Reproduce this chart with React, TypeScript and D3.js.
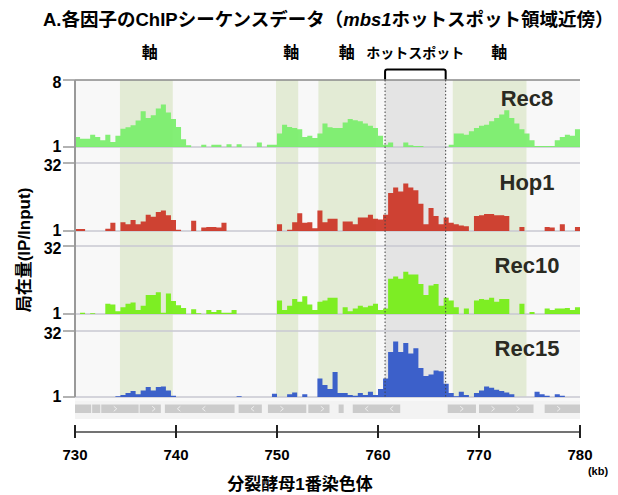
import React from 'react';
import * as d3 from 'd3';

// 0.5 kb bins from 730 kb; values are log2(IP/Input)
const binStart = d3.range(730, 780, 0.5);

const rec8 = [
  0.45, 0.37, 0.37, 0.55, 0.45, 0.3, 0.55, 0.22, 0.5, 0.82,
  0.88, 0.97, 1.19, 1.6, 1.3, 1.42, 1.72, 1.9, 1.55, 1.25,
  0.9, 0.35, 0.08, 0, 0, 0.1, 0, 0.1, 0.1, 0,
  0.12, 0, 0.12, 0, 0, 0, 0.2, 0, 0.1, 0.1,
  0.6, 1.0, 0.9, 0.85, 0.8, 0.45, 0.5, 0.4, 0.6, 1.05,
  0.88, 0.85, 0.85, 1.1, 1.25, 1.2, 1.15, 1.05, 0.95, 0.85,
  0.5, 0.1, 0.2, 0, 0, 0.2, 0.08, 0.05, 0.05, 0,
  0, 0, 0, 0, 0.1, 0.6, 0.6, 0.55, 0.7, 0.85,
  0.95, 1.0, 1.15, 1.3, 1.45, 1.65, 1.3, 1.05, 0.8, 0.6,
  0.3, 0.05, 0.05, 0.05, 0.05, 0.3, 0.45, 0.55, 0.5, 0.8,
];

const hop1 = [
  0.15, 0.15, 0, 0, 0, 0, 0.17, 0.6, 0, 0.65,
  0.5, 0.8, 0.5, 0.7, 1.2, 1.05, 1.4, 1.5, 1.15, 0.8,
  0.1, 0, 0, 0.75, 0, 0.25, 0.3, 0.3, 0.25, 0.6,
  0, 0, 0, 0, 0, 0, 0, 0, 0, 0,
  0.5, 0, 0.1, 0.65, 1.3, 0.6, 0.65, 0.2, 1.5, 0.65,
  0.9, 0.9, 0, 0.7, 0.7, 0.5, 1.0, 1.0, 1.2, 0.9,
  0.85, 1.2, 2.8, 3.2, 2.9, 3.5, 3.2, 3.0, 2.0, 0.5,
  1.7, 1.1, 0.5, 1.0, 0.6, 0.5, 0.4, 0.35, 0, 1.1,
  1.15, 1.25, 1.25, 1.15, 1.15, 1.1, 0, 0, 0.3, 0,
  0, 0, 0, 0.3, 0.25, 0, 0.5, 0, 0, 0.3,
];

const rec10 = [
  0, 0.1, 0, 0.05, 0, 0, 0.75, 0.7, 0.2, 0.5,
  0.75, 0.85, 0.3, 0.6, 1.4, 1.4, 1.6, 0.1, 1.5, 0.95,
  0.65, 0.45, 0, 0.35, 0.05, 0, 0.3, 0.15, 0.3, 0.1,
  0.1, 0.3, 0, 0, 0, 0, 0, 0, 0, 0,
  1.0, 0.3, 0.6, 1.1, 0.9, 1.3, 0.7, 0.3, 0.9, 1.0,
  1.2, 1.2, 0, 0.5, 0.2, 0.4, 0.6, 0.5, 0.6, 0.75,
  0.3, 0.4, 2.6, 2.75, 2.6, 3.1, 2.9, 2.9, 2.2, 1.4,
  2.1, 2.2, 0.6, 1.2, 1.0, 0.5, 0, 0.4, 0, 1.0,
  1.1, 1.05, 1.2, 0.9, 1.1, 1.1, 0, 0, 0.75, 0,
  0.15, 0, 0, 0.4, 0.3, 0.4, 0.4, 0.45, 0.3, 0.5,
];

const rec15 = [
  0, 0, 0, 0, 0, 0, 0, 0, 0.05, 0.15,
  0.3, 0.45, 0.2, 0.5, 0.75, 0.5, 0.75, 0.8, 0.5, 0.1,
  0, 0, 0, 0, 0, 0, 0, 0, 0, 0,
  0, 0, 0.05, 0, 0, 0, 0, 0, 0, 0.25,
  0, 0, 0.2, 0.35, 0, 0.2, 0, 0, 1.4, 0.9,
  0.6, 1.9, 0.3, 0.3, 0.15, 0.1, 0.3, 0.15, 0.4, 0.15,
  0.6, 1.4, 3.4, 4.2, 3.4, 4.1, 3.3, 3.7, 2.2, 1.6,
  1.7, 2.0, 1.95, 1.0, 0.3, 0.05, 0.4, 0.15, 0, 0.3,
  0.5, 0.8, 0.7, 0.55, 0.45, 0.35, 0.2, 0, 0, 0,
  0, 0.4, 0.2, 0.1, 0, 0.2, 0.1, 0, 0, 0,
];

const axisBands = [
  [734.45, 739.68],
  [749.9, 752.1],
  [754.1, 759.8],
  [767.4, 774.7],
];
const hotspot = [760.7, 766.7];
const bandLabels = [
  { kb: 737.4, text: '軸', size: 16 },
  { kb: 751.4, text: '軸', size: 16 },
  { kb: 756.9, text: '軸', size: 16 },
  { kb: 763.7, text: 'ホットスポット', size: 14 },
  { kb: 772.0, text: '軸', size: 16 },
];

// [start kb, end kb, strand]
const genes: [number, number, string][] = [
  [730.0, 731.6, ''],
  [731.7, 732.5, ''],
  [732.6, 736.3, '+'],
  [736.4, 738.5, '+'],
  [738.9, 745.8, '-'],
  [746.2, 748.5, '-'],
  [749.1, 752.9, '+'],
  [753.1, 755.2, '+'],
  [756.1, 756.6, ''],
  [757.5, 762.2, '-'],
  [766.9, 769.7, '+'],
  [770.0, 775.4, '+'],
  [776.5, 780.0, '+'],
];

const xTicks = [730, 740, 750, 760, 770, 780];

const FONT = '"Liberation Sans", Arial, "Noto Sans CJK JP", sans-serif';

export default function App() {
  const x = d3.scaleLinear().domain([730, 780]).range([75, 580]);
  const left = x(730), right = x(780);

  const tracks = [
    { name: 'Rec8', values: rec8, top: 80, base: 147, max: 3, topLabel: '8', color: '#78ee6a' },
    { name: 'Hop1', values: hop1, top: 163, base: 231, max: 5, topLabel: '32', color: '#cc3324' },
    { name: 'Rec10', values: rec10, top: 246, base: 314, max: 5, topLabel: '32', color: '#74ee14' },
    { name: 'Rec15', values: rec15, top: 331, base: 397, max: 5, topLabel: '32', color: '#2e55c8' },
  ];

  const hx1 = x(hotspot[0]), hx2 = x(hotspot[1]);

  return (
    <svg width={618} height={495} style={{ position: 'absolute', left: 0, top: 0, background: '#fff' }}
      fontFamily={FONT} fontWeight="bold">
      {/* title */}
      <text x={43} y={26} fontSize={18.5} fill="#000">
        A.各因子のChIPシーケンスデータ（<tspan fontStyle="italic">mbs1</tspan>ホットスポット領域近傍）
      </text>

      {/* plot background */}
      <rect x={left} y={80} width={right - left} height={339} fill="#f8f8f8" />
      <rect x={left} y={401} width={right - left} height={18} fill="#f3f3f3" />

      {axisBands.map(([a, b], i) => (
        <rect key={i} x={x(a)} y={80} width={x(b) - x(a)} height={317} fill="#e3ebd5" />
      ))}
      <rect x={hx1} y={80} width={hx2 - hx1} height={317} fill="#e4e4e4" />

      {bandLabels.map((d, i) => (
        <text key={i} x={x(d.kb)} y={58} fontSize={d.size} textAnchor="middle" fill="#000">{d.text}</text>
      ))}

      {/* hotspot bracket */}
      <path d={`M${hx1},80 V71.5 Q${hx1},69.5 ${hx1 + 2},69.5 H${hx2 - 2} Q${hx2},69.5 ${hx2},71.5 V80`}
        fill="none" stroke="#000" strokeWidth={2} />

      {/* tracks */}
      {tracks.map((t, ti) => {
        const y = d3.scaleLinear().domain([0, t.max]).range([t.base, t.top]);
        const pts = t.values.map((v, i) => ({ kb: binStart[i], v }));
        pts.push({ kb: 780, v: t.values[t.values.length - 1] });
        const area = d3.area<{ kb: number; v: number }>()
          .x(d => x(d.kb))
          .y0(t.base)
          .y1(d => y(d.v))
          .curve(d3.curveStepAfter);
        return (
          <g key={t.name}>
            <line x1={left} x2={right} y1={t.top} y2={t.top} stroke={ti === 0 ? '#8a8a8a' : '#c9c9d2'} strokeWidth={1.5} />
            <line x1={left} x2={right} y1={t.base} y2={t.base} stroke="#c9c9d2" strokeWidth={1.5} />
            <path d={area(pts) || ''} fill={t.color} fillOpacity={0.92} />
            <line x1={63} x2={left} y1={t.top} y2={t.top} stroke="#999" strokeWidth={1.5} />
            <line x1={63} x2={left} y1={t.base} y2={t.base} stroke="#999" strokeWidth={1.5} />
            <text x={61.5} y={t.top + 8} fontSize={16} textAnchor="end" fill="#000">{t.topLabel}</text>
            <text x={61.5} y={t.base + 5} fontSize={16} textAnchor="end" fill="#000">1</text>
            <text x={527} y={t.base - 41} fontSize={22} textAnchor="middle" fill="#2a2a22">{t.name}</text>
          </g>
        );
      })}

      {/* left axis */}
      <line x1={left} x2={left} y1={80} y2={397} stroke="#999" strokeWidth={2} />

      {/* hotspot dotted borders */}
      {[hx1, hx2].map((hx, i) => (
        <line key={i} x1={hx} x2={hx} y1={80} y2={397} stroke="#444" strokeWidth={1} strokeDasharray="1.5,2" />
      ))}

      {/* gene track */}
      {genes.map(([s, e, strand], i) => {
        const gx1 = x(s), gx2 = x(e);
        const marks: number[] = [];
        if (strand) {
          for (let p = gx1 + 14; p < gx2 - 6; p += 25) marks.push(p);
        }
        return (
          <g key={i}>
            <rect x={gx1} y={404.5} width={gx2 - gx1} height={8.5} fill="#cbcbcb" />
            {marks.map((p, k) => (
              <path key={k} transform={`translate(${p},408.75)`}
                d={strand === '+' ? 'M-1.5,-2.5 L1.5,0 L-1.5,2.5' : 'M1.5,-2.5 L-1.5,0 L1.5,2.5'}
                fill="none" stroke="#efefef" strokeWidth={1} />
            ))}
          </g>
        );
      })}

      {/* x axis */}
      <line x1={left} x2={right} y1={432} y2={432} stroke="#444" strokeWidth={1.5} />
      {xTicks.map(t => (
        <g key={t}>
          <line x1={x(t)} x2={x(t)} y1={425} y2={438} stroke="#222" strokeWidth={2} />
          <text x={x(t)} y={460} fontSize={15} textAnchor="middle" fill="#000">{t}</text>
        </g>
      ))}
      <text x={598} y={475} fontSize={11} textAnchor="middle" fill="#000">(kb)</text>
      <text x={300} y={490} fontSize={17} textAnchor="middle" fill="#000">分裂酵母1番染色体</text>

      {/* y axis title */}
      <text transform="translate(30,250) rotate(-90)" fontSize={17} textAnchor="middle" fill="#000">局在量(IP/Input)</text>
    </svg>
  );
}
